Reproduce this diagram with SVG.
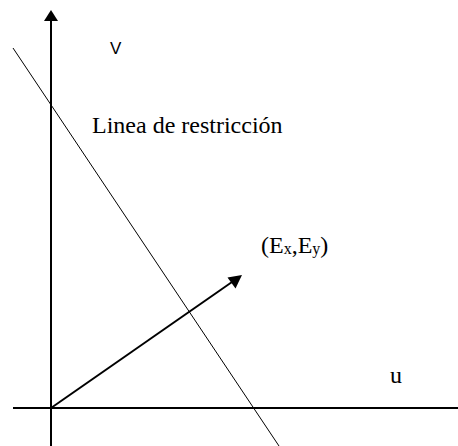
<svg xmlns="http://www.w3.org/2000/svg" width="458" height="446" viewBox="0 0 458 446">
<style>
.ax{stroke:#000;stroke-width:2;fill:none}
.thin{stroke:#000;stroke-width:1;fill:none}
.serif{font-family:"Liberation Serif","Times New Roman",serif;fill:#000}
.sans{font-family:"Liberation Sans",Arial,sans-serif;fill:#000}
</style>
<rect width="458" height="446" fill="#fff"/>
<g id="connectors">
<line class="ax" x1="51" y1="446" x2="51" y2="20"/>
<polygon points="51,10 44,21 58,21" fill="#000"/>
<line class="ax" x1="13" y1="408" x2="458" y2="408"/>
<line class="thin" x1="13" y1="48" x2="279" y2="446"/>
<line class="ax" x1="51" y1="408" x2="232" y2="282"/>
<polygon points="242,275 227.5,277.5 235.5,288.5" fill="#000"/>
</g>
<g id="label-v"><text class="sans" x="110" y="53.5" font-size="17">V</text></g>
<g id="label-linea"><text class="serif" x="92" y="133" font-size="24">Linea de restricción</text></g>
<g id="label-E"><text class="serif" x="261" y="253" font-size="24">(E<tspan font-size="16" dy="1">x</tspan><tspan dy="-1">,E</tspan><tspan font-size="16" dy="1">y</tspan><tspan dy="-1">)</tspan></text></g>
<g id="label-u"><text class="serif" x="390" y="383" font-size="24">u</text></g>
</svg>
